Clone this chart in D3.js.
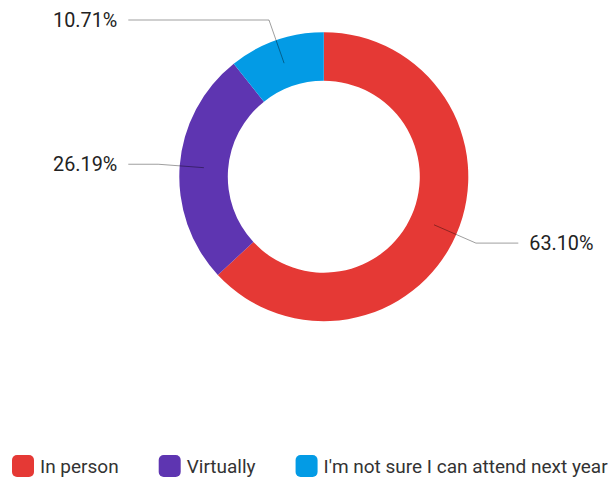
<!DOCTYPE html>
<html>
<head>
<meta charset="utf-8">
<script src="https://cdn.jsdelivr.net/npm/d3@7"></script>
<style>
  html, body { margin: 0; padding: 0; background: #fff; }
  svg { display: block; font-family: Roboto, "Noto Sans", sans-serif; }
</style>
</head>
<body>
<svg id="chart" width="613" height="479"></svg>
<script>
const categories = ["In person", "Virtually", "I'm not sure I can attend next year"];
const values = [63.10, 26.19, 10.71];
const labels = ["63.10%", "26.19%", "10.71%"];
const colors = ["#E53935", "#5E35B1", "#039BE5"];

const svg = d3.select("#chart");
const cx = 323.8, cy = 176.7, rOuter = 144.5, rInner = 96;

const pie = d3.pie().sort(null).value(d => d.value);
const data = categories.map((c, i) => ({ cat: c, value: values[i], label: labels[i], color: colors[i] }));
const arcs = pie(data);

const arc = d3.arc().innerRadius(rInner).outerRadius(rOuter);
const g = svg.append("g").attr("transform", `translate(${cx},${cy})`);

g.selectAll("path.slice").data(arcs).enter().append("path")
  .attr("class", "slice")
  .attr("d", arc)
  .attr("fill", d => d.data.color);

// leader lines
const midR = (rInner + rOuter) / 2;
const elbowR = 166;
const lineX = 195;
arcs.forEach(d => {
  const a = (d.startAngle + d.endAngle) / 2;
  const p1 = [midR * Math.sin(a), -midR * Math.cos(a)];
  const p2 = [elbowR * Math.sin(a), -elbowR * Math.cos(a)];
  const right = Math.sin(a) > 0;
  const p3 = [right ? lineX - 0.5 : -lineX - 0.5, p2[1]];
  g.append("polyline")
    .attr("points", [p1, p2, p3].map(p => p.join(",")).join(" "))
    .attr("fill", "none")
    .attr("stroke", "#000")
    .attr("stroke-opacity", 0.38)
    .attr("stroke-width", 1);
  g.append("text")
    .attr("x", right ? p3[0] + 11 : p3[0] - 11)
    .attr("y", p3[1])
    .attr("dy", "0.36em")
    .attr("text-anchor", right ? "start" : "end")
    .attr("font-size", 19.8)
    .attr("fill", "#222")
    .text(d.data.label);
});

// legend
const legend = svg.append("g").attr("transform", "translate(12,466)");
let x = 0;
data.forEach(d => {
  const item = legend.append("g").attr("transform", `translate(${x},0)`);
  item.append("rect")
    .attr("x", 0).attr("y", -11)
    .attr("width", 22).attr("height", 22)
    .attr("rx", 5)
    .attr("fill", d.color);
  const t = item.append("text")
    .attr("x", 28).attr("y", 0)
    .attr("dy", "0.36em")
    .attr("font-size", 19)
    .attr("fill", "#333")
    .text(d.cat);
  const w = t.node().getComputedTextLength();
  x += 28 + w + 40;
});
</script>
</body>
</html>
